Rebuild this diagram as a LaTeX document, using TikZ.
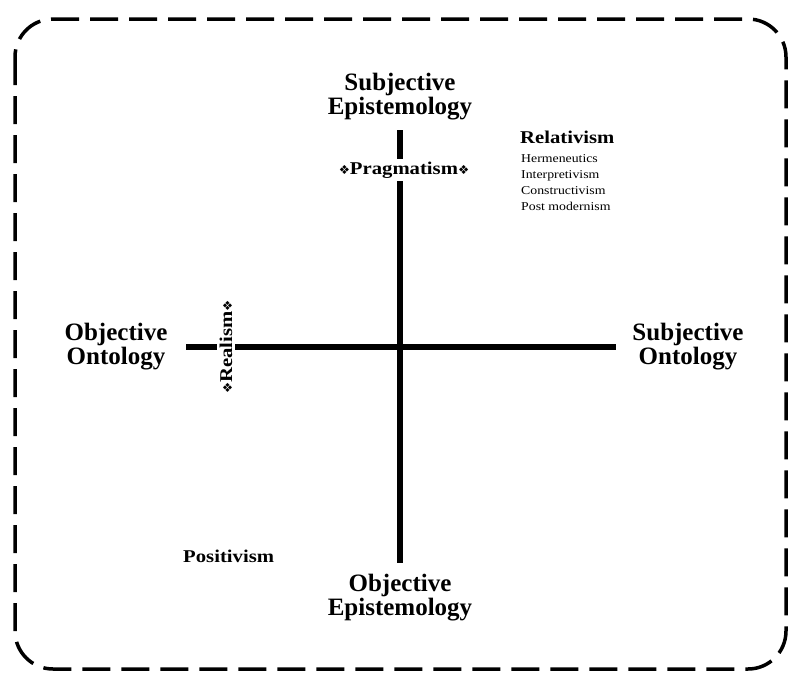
\documentclass[tikz,border=0pt]{standalone}
\usepackage{fontspec}
\setmainfont{Liberation Serif}
\newfontfamily\widefont[FakeStretch=1.15]{Liberation Serif}
\newfontfamily\symfont{DejaVu Sans}
\newcommand\ornam{{\symfont\fontsize{12.5}{12}\selectfont ❖}}
\tikzset{
  frame/.style={line width=3.5pt, dash pattern=on 28pt off 11pt, rounded corners=38pt},
  axis/.style={line width=5.5pt},
  biglabel/.style={font=\fontsize{25}{24}\selectfont\bfseries, align=center, inner sep=0pt},
  tag/.style={font=\widefont\fontsize{18}{20}\selectfont\bfseries, inner sep=0pt},
  gapbox/.style={fill=white, inner sep=2.5pt},
  listtext/.style={font=\widefont\fontsize{12}{16}\selectfont, align=left, inner sep=0pt},
}
\begin{document}
\begin{tikzpicture}[x=1pt, y=-1pt]
\useasboundingbox (0,0) rectangle (788,673);
\draw[frame] (15,19) rectangle (786,669);
% axis labels
\node[biglabel] (se) at (400,97) {Subjective\\Epistemology};
\node[biglabel] (oe) at (400,598) {Objective\\Epistemology};
\node[biglabel] (oo) at (116,347) {Objective\\Ontology};
\node[biglabel] (so) at (688,347) {Subjective\\Ontology};
% axes
\coordinate (vt) at (400,130);
\coordinate (vb) at (400,563);
\coordinate (hl) at (186,347);
\coordinate (hr) at (616,347);
\draw[axis] (vt) -- (vb);
\draw[axis] (hl) -- (hr);
% tags on axes
\node[tag, gapbox] (prag) at (404,170) {\ornam Pragmatism\ornam};
\node[tag, gapbox, rotate=90] (real) at (226,347) {\ornam Realism\ornam};
% quadrant labels
\node[tag, anchor=base west] (rel) at (520,143) {Relativism};
\node[listtext, anchor=north west] (list) at (521,154) {Hermeneutics\\Interpretivism\\Constructivism\\Post modernism};
\node[tag, anchor=base west] (pos) at (183,562) {Positivism};
\end{tikzpicture}
\end{document}
